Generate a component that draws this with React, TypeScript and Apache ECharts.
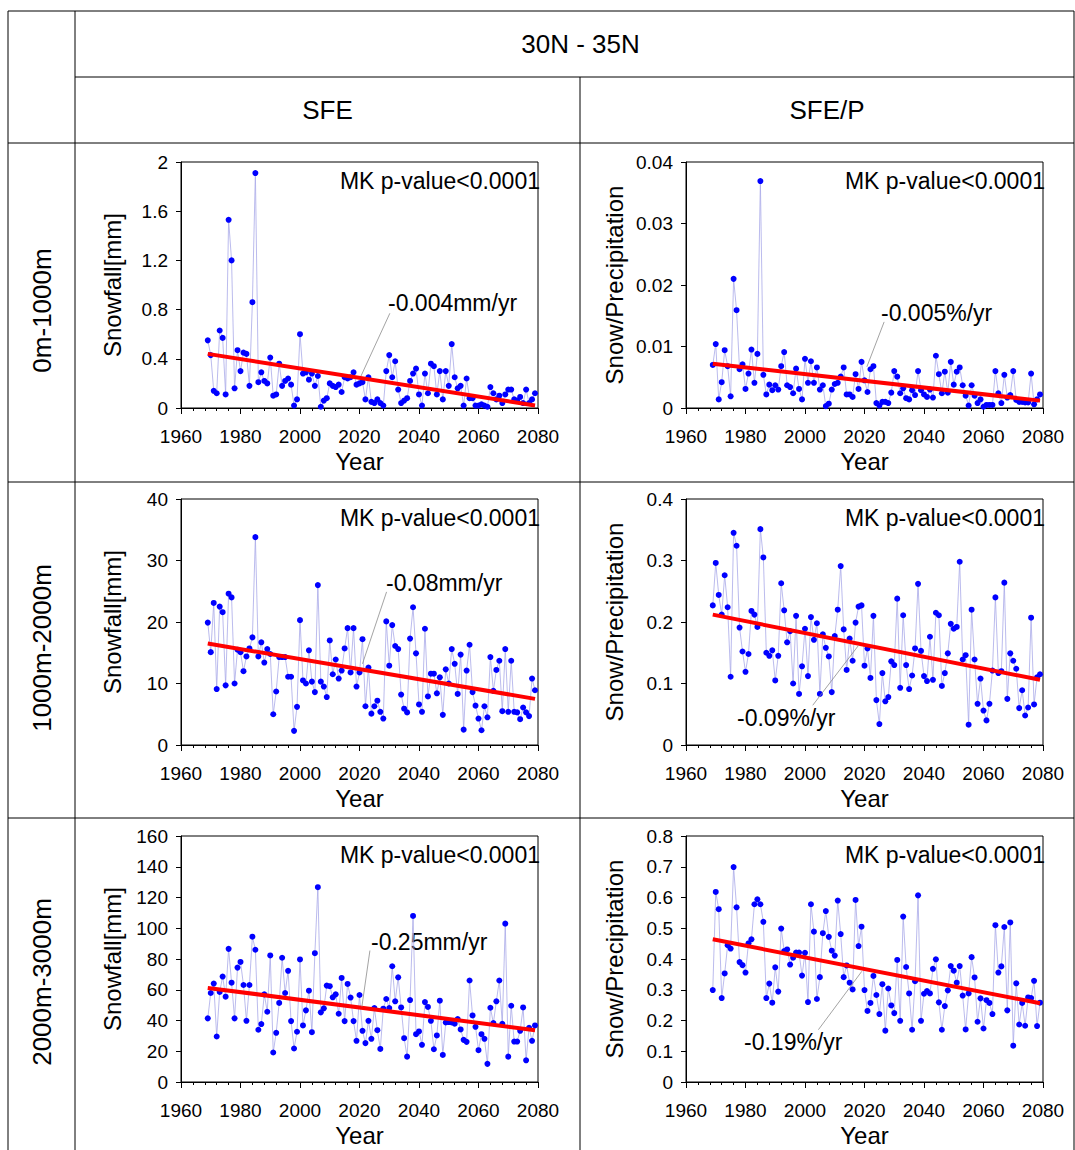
import React, { useEffect, useRef } from "react";
import * as echarts from "echarts";

const FIRST_YEAR = 1969;
const X_TICKS = { min: 1960, max: 2080, interval: 20 };
const TREND_YEARS = [1969, 2079];

const sfe0 = [
  0.55, 0.43, 0.14, 0.12, 0.63, 0.57, 0.11, 1.53, 1.2, 0.16,
  0.47, 0.3, 0.45, 0.44, 0.18, 0.86, 1.91, 0.21, 0.29, 0.22,
  0.2, 0.41, 0.1, 0.11, 0.36, 0.18, 0.22, 0.24, 0.19, 0.02,
  0.07, 0.6, 0.28, 0.29, 0.23, 0.28, 0.18, 0.26, 0.01, 0.06,
  0.08, 0.2, 0.18, 0.17, 0.19, 0.13, 0.25, 0.24, 0.25, 0.29,
  0.19, 0.2, 0.21, 0.07, 0.25,
  0.05, 0.04, 0.07, 0.04, 0.02, 0.3, 0.43, 0.25, 0.38, 0.15,
  0.04, 0.06, 0.08, 0.22, 0.28, 0.32, 0.11, 0.02, 0.28, 0.12,
  0.36, 0.34, 0.11, 0.3, 0.07, 0.3, 0.18, 0.52, 0.25, 0.16,
  0.18, 0.02, 0.24, 0.08, 0.08, 0.02, 0.02, 0.03, 0.02, 0.01,
  0.17, 0.12, 0.07, 0.1, 0.04, 0.11, 0.15, 0.15, 0.07, 0.06,
  0.09, 0.04, 0.15, 0.04, 0.07, 0.12,
];

const sfep0 = [
  0.007, 0.0104, 0.0014, 0.0042, 0.0094, 0.0068, 0.0019, 0.021, 0.0159, 0.0063,
  0.0071, 0.0031, 0.0056, 0.0095, 0.0041, 0.0088, 0.0369, 0.0054, 0.0022, 0.0038,
  0.0029, 0.0037, 0.003, 0.0068, 0.0091, 0.0037, 0.0034, 0.0024, 0.0064, 0.0031,
  0.0014, 0.008, 0.0041, 0.0076, 0.0041, 0.0066, 0.003, 0.0037, 0.0003, 0.0007,
  0.003, 0.0039, 0.0041, 0.0051, 0.0066, 0.0022, 0.0022, 0.0018, 0.0055, 0.0031,
  0.0075, 0.0045, 0.0026, 0.0063, 0.0068, 0.0008, 0.0004,
  0.001, 0.001, 0.0008, 0.0025, 0.006, 0.0051, 0.0024, 0.0032, 0.0016, 0.0014,
  0.0029, 0.0021, 0.006, 0.0029, 0.0022, 0.0018, 0.003, 0.0017, 0.0085, 0.0055,
  0.0024, 0.0059, 0.0025, 0.0075, 0.0038, 0.0059, 0.0066, 0.0037, 0.002, 0.0004,
  0.0037, 0.002, 0.0008, 0.0014, 0.0002, 0.0005, 0.0005, 0.0005, 0.006, 0.0024,
  0.0008, 0.0054, 0.0017, 0.0021, 0.006, 0.0013, 0.001, 0.001, 0.0009, 0.0009,
  0.0056, 0.0006, 0.0014, 0.0022,
];

const sfe1 = [
  19.9, 15.1, 23.1, 9.1, 22.5, 21.6, 9.7, 24.6, 24.0, 10.0,
  15.5, 15.1, 12.0, 14.4, 15.7, 17.5, 33.8, 14.4, 16.7, 13.4,
  15.6, 14.8, 5.0, 8.7, 14.3, 14.3, 14.3, 11.1, 11.1, 2.3,
  6.2, 20.3, 10.5, 10.0, 15.4, 10.3, 8.6, 26.0, 10.3, 9.5,
  7.8, 17.0, 11.5, 13.9, 10.8, 12.1, 15.7, 19.0, 11.8, 19.0,
  9.5, 11.8, 17.2, 6.3, 12.6, 5.1, 6.3,
  7.2, 5.4, 4.3, 20.1, 12.9, 19.5, 16.1, 15.6, 8.2, 5.9,
  5.3, 17.3, 22.4, 14.9, 6.6, 5.4, 18.9, 7.9, 11.6, 11.6,
  8.4, 11.0, 4.9, 12.3, 10.0, 15.6, 13.2, 8.3, 14.7, 2.5,
  12.1, 16.3, 8.6, 6.4, 4.3, 2.4, 6.3, 4.5, 14.3, 8.8,
  12.2, 13.7, 5.5, 15.6, 5.4, 13.7, 5.4, 5.3, 4.2, 6.1,
  5.3, 4.7, 10.8, 8.9,
];

const sfep1 = [
  0.227, 0.296, 0.244, 0.212, 0.276, 0.224, 0.111, 0.345, 0.324, 0.191,
  0.152, 0.119, 0.148, 0.218, 0.212, 0.192, 0.351, 0.305, 0.15, 0.145,
  0.154, 0.105, 0.145, 0.263, 0.219, 0.167, 0.185, 0.1, 0.21, 0.083,
  0.128, 0.189, 0.112, 0.208, 0.171, 0.198, 0.083, 0.18, 0.158, 0.144,
  0.086, 0.177, 0.22, 0.291, 0.188, 0.122, 0.173, 0.137, 0.199, 0.225,
  0.227, 0.129, 0.157, 0.109, 0.21, 0.073, 0.034,
  0.117, 0.071, 0.078, 0.136, 0.13, 0.238, 0.093, 0.211, 0.13, 0.091,
  0.113, 0.157, 0.262, 0.153, 0.112, 0.104, 0.176, 0.106, 0.215, 0.211,
  0.096, 0.117, 0.149, 0.197, 0.189, 0.192, 0.298, 0.139, 0.146, 0.033,
  0.22, 0.139, 0.067, 0.108, 0.056, 0.04, 0.067, 0.121, 0.24, 0.117,
  0.12, 0.264, 0.075, 0.149, 0.137, 0.124, 0.06, 0.089, 0.048, 0.061,
  0.207, 0.066, 0.11, 0.115,
];

const sfe2 = [
  41.4, 57.9, 64.0, 29.6, 58.6, 68.6, 55.5, 86.6, 64.6, 41.4,
  74.4, 78.1, 63.1, 39.8, 63.1, 94.5, 86.0, 34.0, 37.7, 57.0,
  45.7, 82.3, 19.2, 32.0, 51.4, 80.8, 57.9, 72.3, 39.6, 21.8,
  32.7, 79.7, 36.8, 46.6, 59.4, 32.4, 83.8, 126.7, 45.3, 47.9,
  62.7, 62.3, 55.1, 57.0, 44.4, 67.7, 39.6, 63.8, 54.9, 39.6,
  26.8, 56.6, 33.3, 25.3, 39.8, 28.1,
  48.1, 33.7, 21.5, 47.7, 54.0, 48.1, 75.3, 52.5, 68.1, 48.5,
  28.5, 16.5, 53.3, 108.0, 31.1, 32.9, 24.2, 52.0, 48.8, 39.8,
  21.3, 30.3, 52.9, 17.6, 38.7, 39.0, 38.7, 37.9, 40.9, 34.2,
  27.4, 26.1, 66.0, 43.3, 35.9, 20.7, 31.1, 28.1, 11.8, 48.3,
  38.3, 52.5, 66.0, 37.9, 103.0, 16.5, 49.6, 26.3, 26.3, 33.3,
  48.5, 14.1, 35.3, 26.8, 36.8,
];

const sfep2 = [
  0.299, 0.618, 0.562, 0.273, 0.353, 0.445, 0.434, 0.699, 0.568, 0.39,
  0.38, 0.356, 0.451, 0.464, 0.578, 0.594, 0.578, 0.521, 0.273, 0.32,
  0.258, 0.373, 0.294, 0.499, 0.426, 0.431, 0.382, 0.404, 0.421, 0.421,
  0.346, 0.42, 0.26, 0.578, 0.489, 0.27, 0.341, 0.484, 0.556, 0.472,
  0.427, 0.411, 0.59, 0.481, 0.341, 0.379, 0.323, 0.301, 0.592, 0.442,
  0.505, 0.299, 0.231, 0.257, 0.345, 0.283, 0.221,
  0.318, 0.167, 0.304, 0.249, 0.224, 0.397, 0.199, 0.538, 0.374, 0.288,
  0.17, 0.328, 0.607, 0.199, 0.287, 0.296, 0.288, 0.368, 0.399, 0.259,
  0.17, 0.247, 0.298, 0.377, 0.362, 0.323, 0.377, 0.281, 0.171, 0.288,
  0.406, 0.34, 0.196, 0.272, 0.174, 0.266, 0.257, 0.221, 0.51, 0.356,
  0.376, 0.504, 0.233, 0.519, 0.118, 0.321, 0.187, 0.257, 0.183, 0.275,
  0.273, 0.329, 0.182, 0.258,
];

// trend line values at TREND_YEARS
const trend0 = [0.44, 0.02];
const trendP0 = [0.0072, 0.0012];
const trend1 = [16.5, 7.5];
const trendP1 = [0.212, 0.106];
const trend2 = [61.2, 33.7];
const trendP2 = [0.464, 0.256];

// leader lines [x1,y1,x2,y2] in data units
const leader0 = [2020.5, 0.26, 2030.2, 0.77];
const leaderP0 = [2020.8, 0.0067, 2026.6, 0.014];
const leader1 = [2021.0, 13.2, 2029.1, 24.9];
const leaderP1 = [2002.6, 0.0646, 2018.0, 0.162];
const leader2 = [2020.8, 49, 2023.5, 85.5];
const leaderP2 = [2004.5, 0.17, 2019.1, 0.36];

const slopeLabels = ["-0.004mm/yr", "-0.005%/yr", "-0.08mm/yr", "-0.09%/yr", "-0.25mm/yr", "-0.19%/yr"];
const yNames = ["Snowfall[mm]", "Snow/Precipitation"];
const rowLabels = ["0m-1000m", "1000m-2000m", "2000m-3000m"];
const colLabels = ["SFE", "SFE/P"];
const title = "30N - 35N";
const mkLabel = "MK p-value<0.0001";

const panels = [
  { values: sfe0, trend: trend0, leader: leader0, yMax: 2, yInt: 0.4 },
  { values: sfep0, trend: trendP0, leader: leaderP0, yMax: 0.04, yInt: 0.01 },
  { values: sfe1, trend: trend1, leader: leader1, yMax: 40, yInt: 10 },
  { values: sfep1, trend: trendP1, leader: leaderP1, yMax: 0.4, yInt: 0.1 },
  { values: sfe2, trend: trend2, leader: leader2, yMax: 160, yInt: 20 },
  { values: sfep2, trend: trendP2, leader: leaderP2, yMax: 0.8, yInt: 0.1 },
];

// layout (pixels)
const COL_LEFT = [181, 686];
const ROW_TOP = [162, 499, 836];
const GW = 357;
const GH = 246;
// slope label anchor positions (left, middle)
const slopePos = [
  [388, 303], [881, 313],
  [386, 583], [737, 718],
  [371, 942], [744, 1042],
];

const FONT = "Liberation Sans, Arial, sans-serif";

export default function App() {
  const ref = useRef<HTMLDivElement>(null);
  useEffect(() => {
    if (!ref.current) return;
    const chart = echarts.init(ref.current, undefined, { renderer: "svg" });

    const grid: any[] = [];
    const xAxis: any[] = [];
    const yAxis: any[] = [];
    const series: any[] = [];
    const graphic: any[] = [];

    panels.forEach((p, i) => {
      const col = i % 2;
      const row = Math.floor(i / 2);
      grid.push({
        left: COL_LEFT[col], top: ROW_TOP[row], width: GW, height: GH,
        show: true, borderColor: "#000", borderWidth: 1, backgroundColor: "transparent",
      });
      xAxis.push({
        type: "value", gridIndex: i, min: X_TICKS.min, max: X_TICKS.max, interval: X_TICKS.interval,
        name: "Year", nameLocation: "middle", nameGap: 41,
        nameTextStyle: { fontSize: 24, color: "#000", fontFamily: FONT },
        axisLine: { show: true, onZero: false, lineStyle: { color: "#000", width: 1 } },
        axisTick: { show: true, inside: false, length: 6, lineStyle: { color: "#000" } },
        minorTick: { show: true, splitNumber: 5, length: 3, lineStyle: { color: "#000" } },
        axisLabel: { fontSize: 19, color: "#000", margin: 19, fontFamily: FONT, formatter: (v: number) => String(v) },
        splitLine: { show: false },
      });
      yAxis.push({
        type: "value", gridIndex: i, min: 0, max: p.yMax, interval: p.yInt,
        name: yNames[col], nameLocation: "middle", nameGap: col === 0 ? 57 : 60, nameRotate: 90,
        nameTextStyle: { fontSize: 24, color: "#000", fontFamily: FONT },
        axisLine: { show: true, onZero: false, lineStyle: { color: "#000", width: 1 } },
        axisTick: { show: true, inside: false, length: 5, lineStyle: { color: "#000" } },
        axisLabel: { fontSize: 19, color: "#000", margin: 13, fontFamily: FONT },
        splitLine: { show: false },
      });
      series.push({
        type: "line", xAxisIndex: i, yAxisIndex: i,
        data: p.values.map((v, k) => [FIRST_YEAR + k, v]),
        symbol: "circle", symbolSize: 6,
        itemStyle: { color: "#0000ff" },
        lineStyle: { color: "#a9a9e8", width: 0.8 },
        z: 3, silent: true,
      });
      series.push({
        type: "line", xAxisIndex: i, yAxisIndex: i,
        data: TREND_YEARS.map((y, k) => [y, p.trend[k]]),
        symbol: "none",
        lineStyle: { color: "#ff0000", width: 4 },
        z: 4, silent: true,
        markLine: {
          silent: true, symbol: ["none", "none"], label: { show: false },
          lineStyle: { color: "#8c8c8c", width: 0.8, type: "solid" },
          data: [[{ coord: [p.leader[0], p.leader[1]] }, { coord: [p.leader[2], p.leader[3]] }]],
        },
      });
      graphic.push({
        type: "text", x: COL_LEFT[col] + GW + 2, y: ROW_TOP[row] + 19,
        style: { text: mkLabel, fontSize: 23, fontFamily: FONT, fill: "#000", textAlign: "right", textVerticalAlign: "middle" },
      });
      graphic.push({
        type: "text", x: slopePos[i][0], y: slopePos[i][1],
        style: { text: slopeLabels[i], fontSize: 23, fontFamily: FONT, fill: "#000", textAlign: "left", textVerticalAlign: "middle" },
      });
    });

    // table lines
    const L = 8, C1 = 75, C2 = 580, R = 1074;
    const T = 11, H1 = 77, H2 = 143, R1 = 482, R2 = 818, B = 1150;
    const lines = [
      [L, T, R, T], [C1, H1, R, H1], [L, H2, R, H2], [L, R1, R, R1], [L, R2, R, R2],
      [L, T, L, B], [C1, T, C1, B], [C2, H1, C2, B], [R, T, R, B],
    ];
    lines.forEach(([x1, y1, x2, y2]) => {
      graphic.push({ type: "line", shape: { x1, y1, x2, y2 }, style: { stroke: "#000", lineWidth: 1 }, z: 10 });
    });
    graphic.push({
      type: "text", x: (C1 + R) / 2 + 6, y: (T + H1) / 2,
      style: { text: title, fontSize: 26, fontFamily: FONT, fill: "#000", textAlign: "center", textVerticalAlign: "middle" },
    });
    colLabels.forEach((t, k) => {
      const cx = k === 0 ? (C1 + C2) / 2 : (C2 + R) / 2;
      graphic.push({
        type: "text", x: cx, y: (H1 + H2) / 2,
        style: { text: t, fontSize: 26, fontFamily: FONT, fill: "#000", textAlign: "center", textVerticalAlign: "middle" },
      });
    });
    const rowBounds = [[H2, R1], [R1, R2], [R2, B]];
    rowLabels.forEach((t, k) => {
      graphic.push({
        type: "text", x: (L + C1) / 2, y: (rowBounds[k][0] + rowBounds[k][1]) / 2 - 2,
        rotation: Math.PI / 2,
        style: { text: t, fontSize: 26, fontFamily: FONT, fill: "#000", textAlign: "center", textVerticalAlign: "middle" },
      });
    });

    chart.setOption({
      animation: false,
      backgroundColor: "#fff",
      textStyle: { fontFamily: FONT },
      grid, xAxis, yAxis, series, graphic,
    });
    return () => chart.dispose();
  }, []);
  return <div ref={ref} style={{ position: "fixed", left: 0, top: 0, width: 1075, height: 1150 }} />;
}
